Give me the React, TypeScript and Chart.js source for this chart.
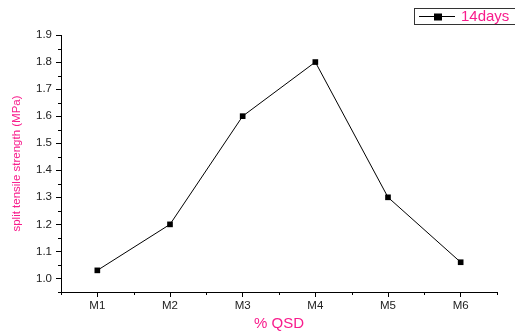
import React, { useEffect, useRef } from "react";
import { Chart, registerables } from "chart.js";

Chart.register(...registerables);

const mixes = ["M1", "M2", "M3", "M4", "M5", "M6"];
const strength14 = [1.03, 1.2, 1.6, 1.8, 1.3, 1.06];
const yMajorTicks = [1.0, 1.1, 1.2, 1.3, 1.4, 1.5, 1.6, 1.7, 1.8, 1.9];
const yMinorTicks = [0.95, 1.05, 1.15, 1.25, 1.35, 1.45, 1.55, 1.65, 1.75, 1.85];

const PINK = "#f81c8c";
const FONT = "'Liberation Sans', Arial, sans-serif";

// Short minor ticks on both axes plus the framed legend in the top-right corner.
const axisExtras = {
  id: "axisExtras",
  afterDraw(chart: any) {
    const ctx = chart.ctx;
    const x = chart.scales.x;
    const y = chart.scales.y;
    const area = chart.chartArea;
    ctx.save();
    ctx.strokeStyle = "#000";
    ctx.lineWidth = 1;
    ctx.beginPath();
    for (const v of yMinorTicks) {
      const py = Math.round(y.getPixelForValue(v)) + 0.5;
      ctx.moveTo(area.left - 3, py);
      ctx.lineTo(area.left, py);
    }
    for (let i = 0; i <= mixes.length; i++) {
      const px = Math.round(x.getPixelForValue(i - 0.5)) + 0.5;
      ctx.moveTo(px, area.bottom);
      ctx.lineTo(px, area.bottom + 3);
    }
    ctx.stroke();

    // legend
    const ds = chart.data.datasets[0];
    const bx = 414.5, by = 8.5, bw = 110, bh = 16;
    ctx.strokeStyle = "#333";
    ctx.strokeRect(bx, by, bw, bh);
    const ly = by + bh / 2;
    ctx.strokeStyle = "#000";
    ctx.beginPath();
    ctx.moveTo(419, ly);
    ctx.lineTo(455, ly);
    ctx.stroke();
    ctx.fillStyle = "#000";
    ctx.fillRect(434, ly - 3, 8, 7);
    ctx.fillStyle = PINK;
    ctx.font = `15px ${FONT}`;
    ctx.textBaseline = "middle";
    ctx.textAlign = "left";
    ctx.fillText(ds.label, 461, ly + 0.5);
    ctx.restore();
  },
};

export default function App() {
  const ref = useRef<HTMLCanvasElement | null>(null);

  useEffect(() => {
    if (!ref.current) return;
    const chart = new Chart(ref.current, {
      type: "line",
      data: {
        labels: mixes,
        datasets: [
          {
            label: "14days",
            data: strength14,
            borderColor: "#000",
            borderWidth: 1,
            backgroundColor: "#000",
            pointStyle: "rect",
            pointRadius: 4,
            pointBorderWidth: 0,
            tension: 0,
          },
        ],
      },
      options: {
        animation: false,
        responsive: false,
        events: [],
        layout: { padding: { left: 10, right: 18, top: 35, bottom: 0 } },
        plugins: { legend: { display: false }, tooltip: { enabled: false } },
        scales: {
          x: {
            type: "category",
            offset: true,
            grid: {
              display: true,
              drawOnChartArea: false,
              offset: false,
              tickLength: 5,
              color: "#000",
            },
            border: { display: true, color: "#000", width: 1 },
            ticks: {
              color: "#222",
              padding: 2,
              font: { family: FONT, size: 11.5 },
              maxRotation: 0,
            },
            title: {
              display: true,
              text: "% QSD",
              color: PINK,
              padding: { top: 2, bottom: 0 },
              font: { family: FONT, size: 15 },
            },
            afterFit(scale: any) {
              scale.height = 41;
            },
          },
          y: {
            min: 0.95,
            max: 1.9,
            afterBuildTicks(scale: any) {
              scale.ticks = yMajorTicks.map((v) => ({ value: v }));
            },
            grid: {
              display: true,
              drawOnChartArea: false,
              tickLength: 5,
              color: "#000",
            },
            border: { display: true, color: "#000", width: 1 },
            ticks: {
              color: "#222",
              padding: 4,
              font: { family: FONT, size: 11.5 },
              callback: (v: any) => Number(v).toFixed(1),
            },
            title: {
              display: true,
              text: "split tensile strength (MPa)",
              color: PINK,
              padding: { top: 0, bottom: 0 },
              font: { family: FONT, size: 11.5 },
            },
            afterFit(scale: any) {
              scale.width = 51;
            },
          },
        },
      },
      plugins: [axisExtras],
    });
    return () => chart.destroy();
  }, []);

  return (
    <div style={{ position: "absolute", left: 0, top: 0, width: 515, height: 333, background: "#fff" }}>
      <canvas ref={ref} width={515} height={333} style={{ display: "block" }} />
    </div>
  );
}
